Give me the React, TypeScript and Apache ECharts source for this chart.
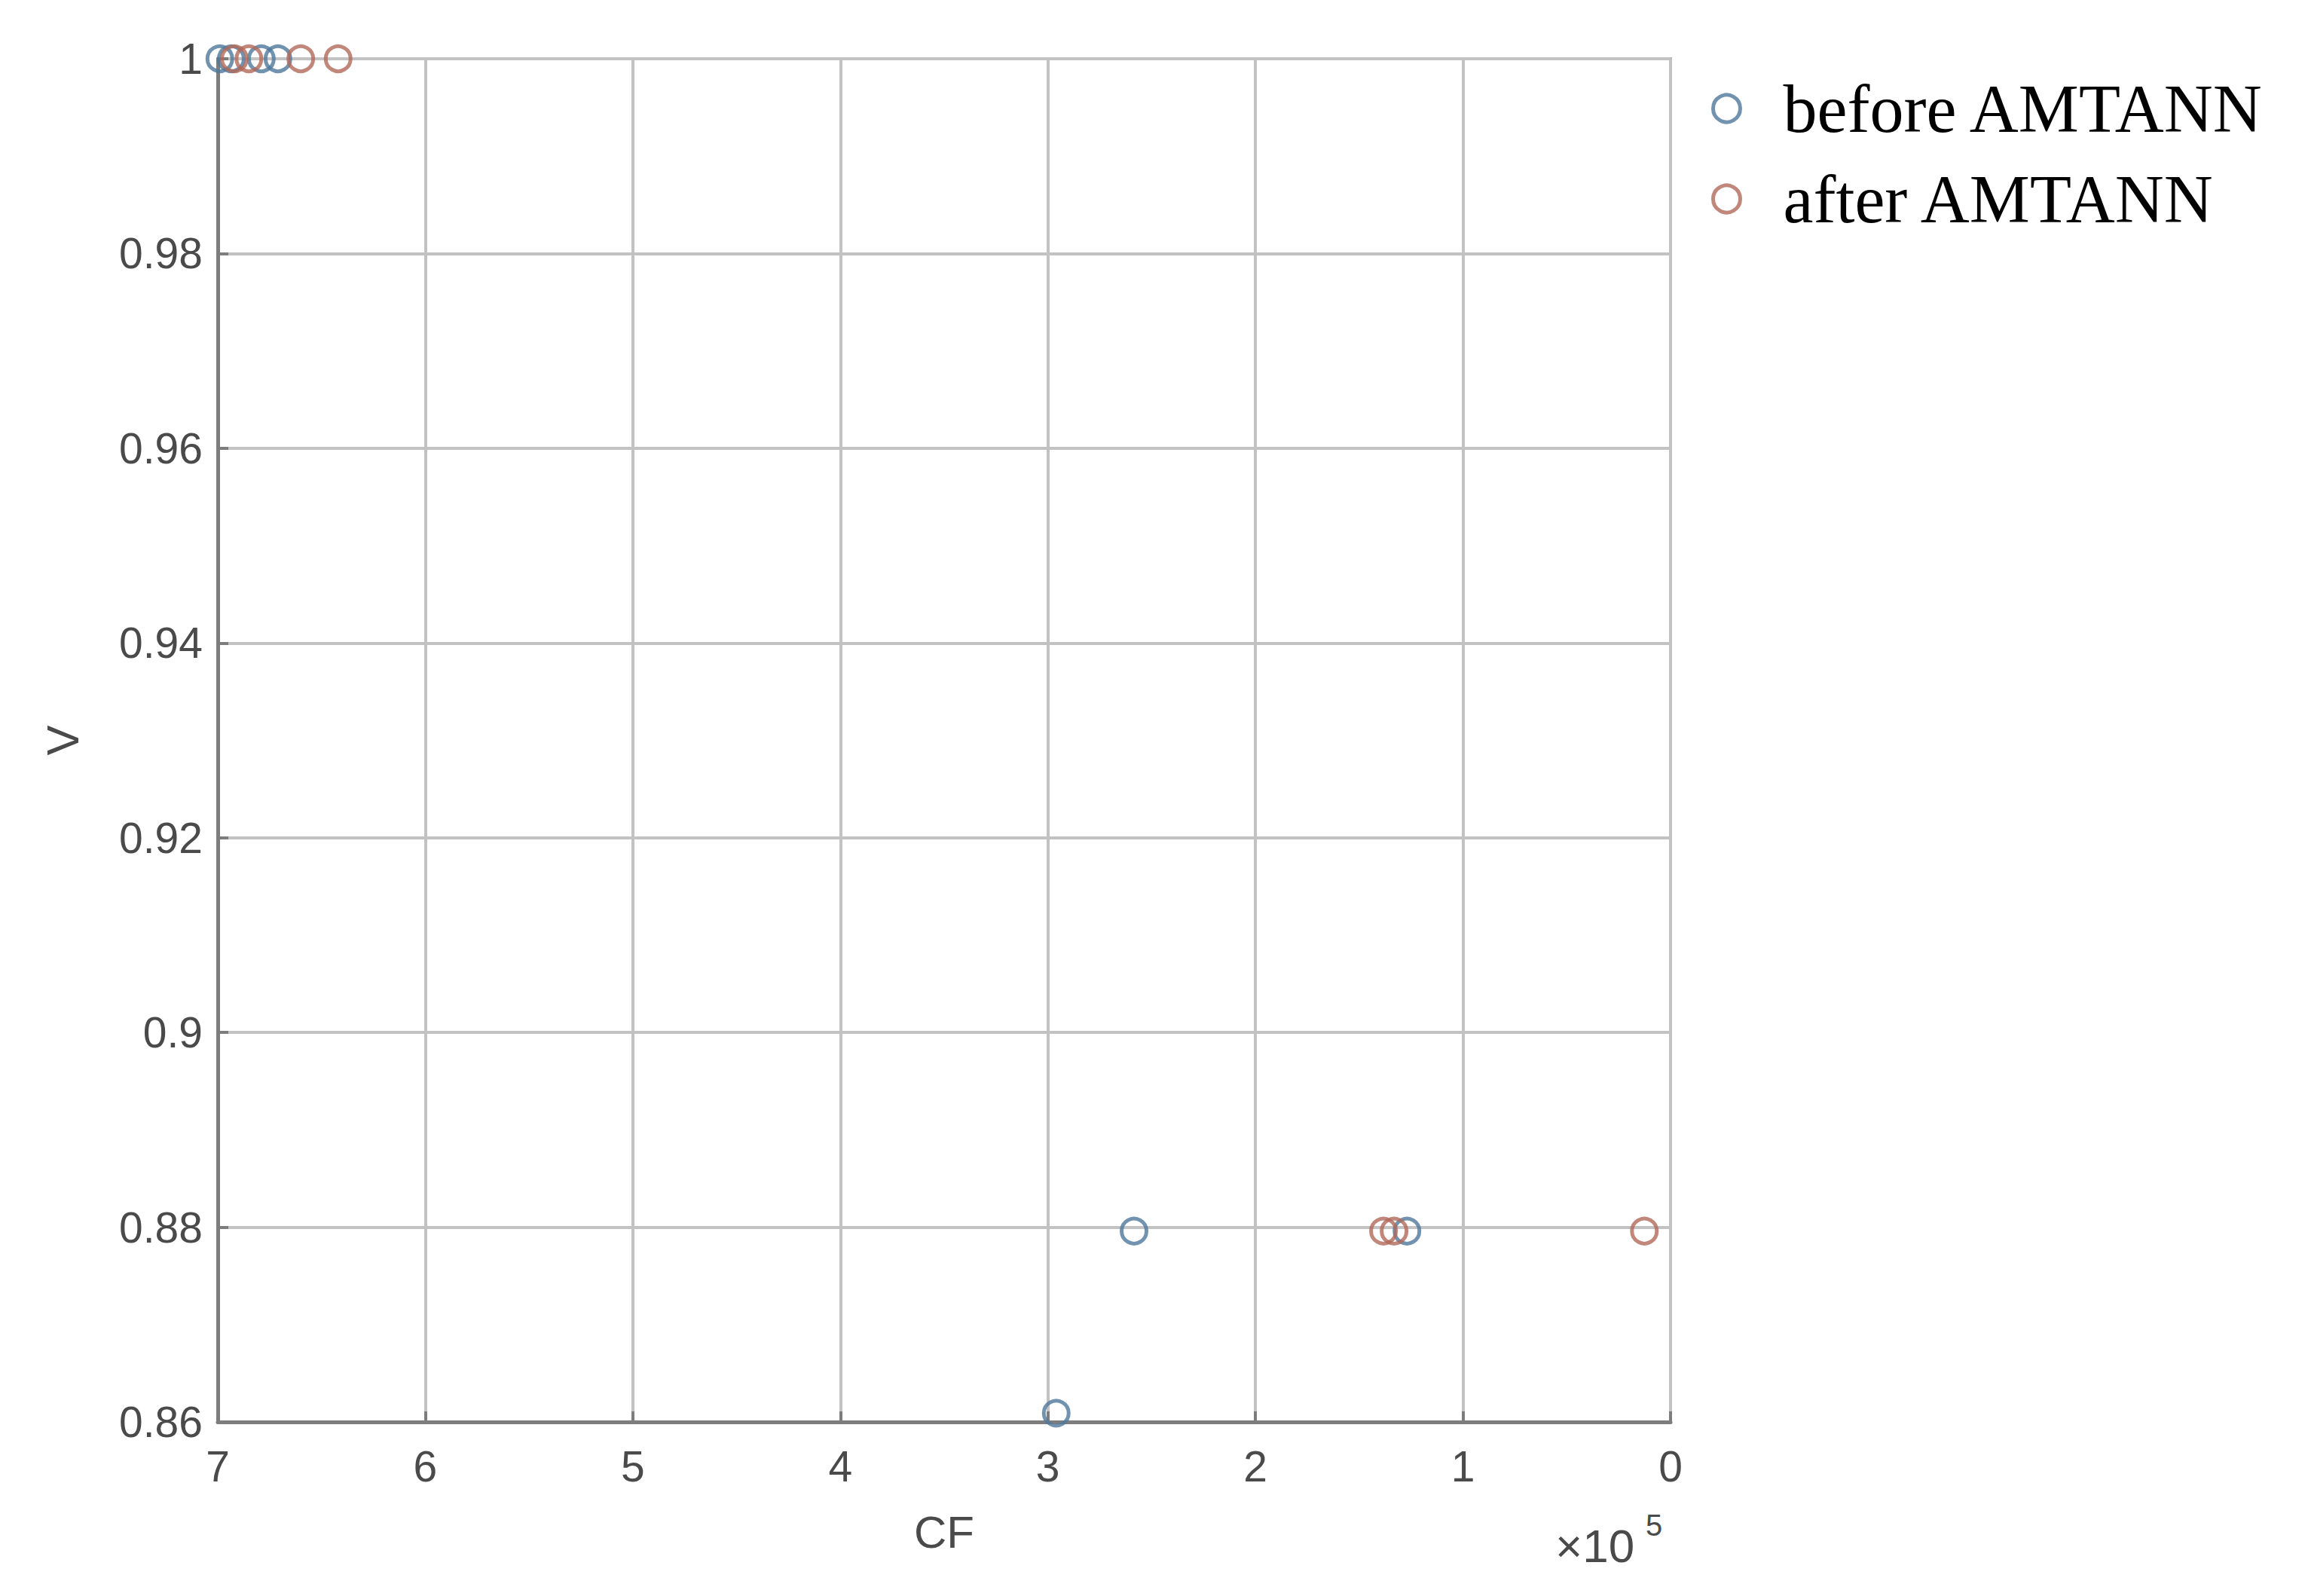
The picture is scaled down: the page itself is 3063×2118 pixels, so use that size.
import React, { useEffect, useRef } from "react";
import * as echarts from "echarts";

const beforeCF = [699000, 693500, 679000, 671000, 258500, 296000, 127000];
const beforeV = [1, 1, 1, 1, 0.8796, 0.8609, 0.8796];
const afterCF = [692000, 685000, 660000, 642000, 138300, 133200, 12600];
const afterV = [1, 1, 1, 1, 0.8796, 0.8796, 0.8796];
const seriesNames = ["before AMTANN", "after AMTANN"];
const xTickLabels = ["0", "1", "2", "3", "4", "5", "6", "7"];

const BLUE = "#4f789c";
const RED = "#b2695a";

export default function App() {
  const ref = useRef<HTMLDivElement>(null);
  useEffect(() => {
    document.body.style.margin = "0";
    const chart = echarts.init(ref.current!, null, { renderer: "svg" });
    const toPairs = (xs: number[], ys: number[]) => xs.map((x, i) => [x, ys[i]]);
    const axisFont = "Liberation Sans";
    const labelColor = "#4a4a4a";
    chart.setOption({
      animation: false,
      backgroundColor: "#ffffff",
      grid: {
        left: 289,
        top: 78,
        width: 1928,
        height: 1809,
        show: true,
        borderColor: "#b4b4b4",
        borderWidth: 4,
        containLabel: false,
      },
      legend: {
        orient: "vertical",
        left: 2266,
        top: 94,
        itemWidth: 36,
        itemHeight: 36,
        itemGap: 30,
        itemStyle: { borderWidth: 5 },
        textStyle: {
          fontFamily: "Liberation Serif",
          fontSize: 90,
          lineHeight: 88,
          color: "#000",
          padding: [0, 0, 0, 52],
        },
        data: seriesNames,
      },
      xAxis: {
        type: "value",
        inverse: true,
        min: 0,
        max: 700000,
        interval: 100000,
        name: "CF",
        nameLocation: "middle",
        nameGap: 116,
        nameTextStyle: { fontFamily: axisFont, fontSize: 60, color: labelColor },
        axisLine: { show: true, onZero: false, lineStyle: { color: "#7d7d7d", width: 5 } },
        axisTick: { show: true, inside: true, length: 14, lineStyle: { color: "#7d7d7d", width: 4 } },
        axisLabel: {
          fontFamily: axisFont,
          fontSize: 57,
          color: labelColor,
          margin: 30,
          formatter: (v: number) => xTickLabels[Math.round(v / 100000)],
        },
        splitLine: { show: true, lineStyle: { color: "#c2c2c2", width: 4 } },
      },
      yAxis: {
        type: "value",
        min: 0.86,
        max: 1,
        interval: 0.02,
        name: "V",
        nameLocation: "middle",
        nameGap: 176,
        nameRotate: 90,
        nameTextStyle: { fontFamily: axisFont, fontSize: 60, color: labelColor },
        axisLine: { show: true, onZero: false, lineStyle: { color: "#7d7d7d", width: 5 } },
        axisTick: { show: true, inside: true, length: 14, lineStyle: { color: "#7d7d7d", width: 4 } },
        axisLabel: {
          fontFamily: axisFont,
          fontSize: 57,
          color: labelColor,
          margin: 20,
          formatter: (v: number) => String(Math.round(v * 100) / 100),
        },
        splitLine: { show: true, lineStyle: { color: "#c2c2c2", width: 4 } },
      },
      series: [
        {
          name: seriesNames[0],
          type: "scatter",
          symbol: "circle",
          symbolSize: 33,
          itemStyle: { color: "rgba(255,255,255,0)", borderColor: BLUE, borderWidth: 5 },
          data: toPairs(beforeCF, beforeV),
        },
        {
          name: seriesNames[1],
          type: "scatter",
          symbol: "circle",
          symbolSize: 33,
          itemStyle: { color: "rgba(255,255,255,0)", borderColor: RED, borderWidth: 5 },
          data: toPairs(afterCF, afterV),
        },
      ],
      graphic: [
        {
          type: "text",
          left: 2064,
          top: 2020,
          style: { text: "×10", fontFamily: axisFont, fontSize: 62, fill: labelColor },
        },
        {
          type: "text",
          left: 2184,
          top: 2004,
          style: { text: "5", fontFamily: axisFont, fontSize: 40, fill: labelColor },
        },
      ],
    });
    return () => chart.dispose();
  }, []);
  return <div ref={ref} style={{ position: "absolute", left: 0, top: 0, width: 3063, height: 2118 }} />;
}
